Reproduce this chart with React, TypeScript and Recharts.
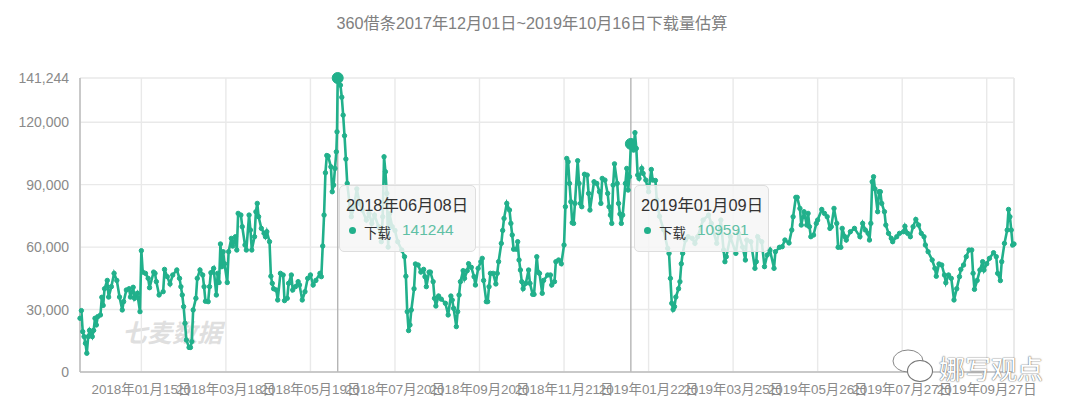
import React from "react";
import { LineChart, Line, XAxis, YAxis, CartesianGrid, ReferenceLine, ReferenceDot } from "recharts";

const titleText = "360借条2017年12月01日~2019年10月16日下载量估算";
const seriesName = "下载";
const LAST_DAY = 685;

// [days since 2017-12-01, downloads in thousands]
const samples: [number, number][] = [
[0,25.8],[1,29.5],[2,19.4],[3,17],[4,13.8],[5,9],[6,17],[7,20],[9,17],[10,20],[11,25.8],[12,22.6],[13,26.6],[15,27.4],[16,35.9],[17,32],[18,40],[20,44],[21,36],[23,41],[25,47.4],[27,44],[29,36],[31,29.8],[32,33.8],[34,39.4],[36,40],[37,36],[39,40.7],[40,35.4],[42,37.8],[44,29],
[45,58.3],[46,48],[48,47.4],[50,45],[51,40.5],[54,48],[55,47.4],[56,43.4],[58,37],[61,38.6],[62,49.3],[64,45.8],[66,42.3],[68,46.6],[71,49],[73,45],[74,41],[75,37],[76,31.4],[77,23.4],[78,15.4],[80,11.8],[81,11.8],[82,14.6],[83,29.8],[85,35.4],[86,45],[88,49],[90,46.6],[91,41],[92,34],[94,33.8],[95,41],[96,47.7],[98,49.8],[100,37],[101,47.4],[102,43],[103,61.5],[104,50.6],[105,57.8],[106,52],[108,43],[109,57.8],[111,64.2],[112,60.5],[114,65],[115,58.6],[116,76.2],[118,75.4],[119,69.8],[121,61],[122,58.6],[124,75.4],[125,68.2],[126,58.6],[128,65],[129,77],[130,81],[131,74.6],[133,69],[135,66.6],[136,65],[137,67.4],[139,62.6],
[140,46],[141,42.6],[142,40],[144,39.4],[145,34.6],[147,47.4],[149,46.6],[150,34.3],[152,35.4],[153,42.6],[155,46.6],[156,39.4],[158,41],[160,43.4],[161,41.8],[163,34.6],[165,38.6],[167,45],[169,46.6],[171,41.8],[173,44],[176,47.4],[177,45.8],[178,60.5],[179,75.4],[180,95.7],[181,104],[182,103.7],[184,98.6],[185,86.6],[186,89.8],[187,97.8],[188,105.8],[188.5,115.4],[189,141.244],
[191,137.8],[192,132],[193,123.4],[194,113.5],[195,102.3],[196,90.6],[198,79],[199,74.6],[201,79.4],[203,88],[205,81],[207,77.8],[210,73],[212,76.2],[214,71.4],[216,75.4],[219,69.8],[221,62.6],[222,74.6],[223,103.4],[224,96.2],[225,85.8],[226,60],[227,76],[229,69.8],[231,68],[233,62.6],[236,58.6],[238,55.4],[239,46],[240,29],[241,19.9],[242,22.6],[243,29.8],[245,40],[246,51.9],[248,51.4],[250,48],[252,49.3],[253,45.8],[254,41],[256,48],[257,48],[259,43.4],[260,35.4],[261,31.7],[263,36.5],[265,35],[268,33],[270,27.4],[272,36.5],[273,34.6],[274,30.6],[276,21.8],[277,29],[278,37],[279,43.4],[281,48.7],[282,45],[284,48.7],[285,52],[287,50.3],[289,45.8],[290,41.8],[292,49.8],[294,53],[295,54.6],[296,44],[298,33.8],[299,33.8],[300,41],[301,47.4],[303,47.4],[305,42.3],[306,47.4],[307,53],[309,61.8],[310,68],[311,73.8],[313,81],[315,77.8],[316,71.4],[317,65.8],[318,59],[320,59],[321,62.6],[322,53.8],[323,49],[324,43.4],[325,40],[327,42.6],[329,49],[330,42.6],[332,37.3],[333,37.3],[335,55.4],[336,48],[337,47.4],[339,37.8],[340,44],[343,46.6],[345,46.6],[346,41.8],[348,43.4],[349,53],[351,53.8],[353,52],[355,61],[356,79.4],[357,102.6],[358,101],[359,90.6],[360,81.8],[361,71.7],[362,71.4],[363,81],[365,101.5],[366,90.6],[367,81],[368,79.4],[370,95],[372,94.6],[373,85.8],[374,77.8],[377,91.4],[379,90.6],[381,86.6],[382,81],[383,93],[385,92.2],[387,85.8],[388,79.4],[389,75.4],[390,71.4],[391,89.8],[392,100],[394,90.6],[395,81],[396,75.9],[397,71.4],[398,75.4],[400,90.6],[401,97.8],[402,87.4],[403,93.8],[404,109.591],[406,106.6],[407,115],[408,107.4],[409,94.6],[410,93],[412,97.8],[413,95.4],[415,92.2],[417,86.6],[419,97.3],[420,92.2],[422,92],
[423,82.8],[425,74.8],[428,68.4],[431,59.4],[432,57],[433,45],[434,33],[435,30],[436,31.4],[437,36],[439,40],[440,43.4],[441,52],[442,57],[444,63.4],[446,65],[449,64.2],[451,61.8],[453,65],[457,73],[461,75.4],[463,71.4],[467,61.8],[470,73],[472,58.6],[473,53],[474,55.4],[477,65],[481,57],[483,66.6],[486,60],[488,53.8],[489,63.4],[492,62.6],[495,49.8],[496,53],[497,65],[500,62.6],[502,50.6],[504,56.2],[506,58.6],[509,49.8],[510,57.8],[513,59.9],[515,60.2],[517,63.4],[520,62],[522,68.2],[523,74.6],[525,83.9],[526,83.9],[528,78.6],[529,70.6],[531,77],[533,70.6],[534,76.2],[535,69.8],[536,65],[538,65.8],[540,71.4],[541,73],[544,78.1],[546,76.2],[548,74.6],[550,69],[551,69.8],[553,78.6],[555,71.4],[556,59.9],[558,59.9],[559,69],[561,65],[562,63.4],[565,67.4],[568,69],[572,65],[574,71.4],[576,68.2],[578,66.6],[579,63.4],[580,71.4],[581,91.4],[582,93.8],[583,88],[585,77],[586,86.6],[587,86.6],[588,81],[590,77],[591,70.6],[593,66.6],[595,64.2],[596,62.6],[599,65],[601,66.6],[604,67.4],[605,70],[607,66.6],[609,65],[611,69.8],[613,73.3],[615,70.6],[617,66.6],[619,65],[620,61],[622,57.8],[625,53.8],[627,49.8],[628,46],[630,51.9],[632,51.4],[634,46.6],[635,42.9],[637,46.6],[639,45],[641,34.6],[643,40],[645,45.8],[646,49.3],[648,51.4],[650,55.4],[652,58.6],[654,58.6],[655,47.4],[656,39.7],[658,44],[660,49],[662,53],[663,49],[665,52],[667,54.6],[670,57.3],[672,55.4],[673,47.4],[675,43.9],[676,53],[678,61.8],[680,68.2],[681,78.1],[682,74.6],[683,68.2],[684,61],[685,61.5],
];

const xTickDays = [45, 107, 169, 231, 293, 355, 417, 479, 541, 603, 665];
const xTickLabels = [
  "2018年01月15日", "2018年03月18日", "2018年05月19日", "2018年07月20日",
  "2018年09月20日", "2018年11月21日", "2019年01月22日", "2019年03月25日",
  "2019年05月26日", "2019年07月27日", "2019年09月27日",
];
const yTicks = [0, 30000, 60000, 90000, 120000, 141244];

const tipDays = [189, 404];
const tipDates = ["2018年06月08日", "2019年01月09日"];
const tipValues = [141244, 109591];

const GREEN = "#21b08b";
const FONT = '"Liberation Sans", "Noto Sans CJK SC", sans-serif';

const data = samples.map(([day, k]) => ({ day, value: Math.round(k * 1000) }));

const tipBoxes = [
  { left: 339, top: 185, width: 137, height: 67 },
  { left: 634, top: 185, width: 135, height: 67 },
];

function TipBox({ i }: { i: number }) {
  const b = tipBoxes[i];
  return (
    <div style={{ position: "absolute", ...b, boxSizing: "border-box", background: "rgba(245,245,245,0.84)", border: "1px solid #dedede", borderRadius: 5, fontFamily: FONT, zIndex: 3 }}>
      <div style={{ position: "absolute", left: 6, top: 6, fontSize: 16.4, color: "#333", whiteSpace: "nowrap" }}>{tipDates[i]}</div>
      <div style={{ position: "absolute", left: 9, top: 41, width: 7, height: 7, borderRadius: 4, background: GREEN }} />
      <div style={{ position: "absolute", left: 24, top: 36, fontSize: 13.5, color: "#333", whiteSpace: "nowrap" }}>{seriesName}</div>
      <div style={{ position: "absolute", left: 62, top: 35, fontSize: 15.5, color: "#5fc0a5", whiteSpace: "nowrap" }}>{tipValues[i]}</div>
    </div>
  );
}

export default function App() {
  return (
    <div style={{ position: "absolute", left: 0, top: 0, width: 1080, height: 414, background: "#fff", overflow: "hidden", fontFamily: FONT }}>
      <div style={{ position: "absolute", left: 0, width: 1064, top: 10, textAlign: "center", fontSize: 16.2, color: "#808080" }}>{titleText}</div>
      <div style={{ position: "absolute", left: 122, top: 313, fontSize: 25, fontWeight: 700, fontStyle: "italic", color: "#dfdfdf", whiteSpace: "nowrap" }}>七麦数据</div>
      <LineChart width={1080} height={414} data={data} margin={{ top: 78, right: 66, bottom: 12, left: 0 }} style={{ position: "absolute", left: 0, top: 0 }}>
        <CartesianGrid stroke="#e9e9e9" strokeWidth={1.4} />
        <XAxis
          dataKey="day"
          type="number"
          domain={[0, LAST_DAY]}
          ticks={xTickDays}
          interval={0}
          height={30}
          tickLine={false}
          axisLine={{ stroke: "#bdbdbd", strokeWidth: 1.5 }}
          tick={{ fill: "#8a8a8a", fontSize: 13.4, fontFamily: FONT }}
          tickFormatter={(d: number) => xTickLabels[xTickDays.indexOf(d)]}
          tickMargin={6}
        />
        <YAxis
          type="number"
          domain={[0, 141244]}
          ticks={yTicks}
          interval={0}
          width={80}
          tickLine={false}
          axisLine={{ stroke: "#bdbdbd", strokeWidth: 1.5 }}
          tick={{ fill: "#8a8a8a", fontSize: 14, fontFamily: FONT }}
          tickFormatter={(v: number) => v.toLocaleString("en-US")}
          tickMargin={5}
        />
        <ReferenceLine x={LAST_DAY} stroke="#e9e9e9" strokeWidth={1.4} />
        {tipDays.map((d) => (
          <ReferenceLine key={d} x={d} stroke="#b5b5b5" strokeWidth={1.4} />
        ))}
        <Line
          dataKey="value"
          stroke={GREEN}
          strokeWidth={2.6}
          dot={{ r: 2.2, fill: GREEN, stroke: GREEN, strokeWidth: 1 }}
          isAnimationActive={false}
          name={seriesName}
        />
        {tipDays.map((d, i) => (
          <ReferenceDot key={d} x={d} y={tipValues[i]} r={5.5} fill={GREEN} stroke={GREEN} ifOverflow="visible" />
        ))}
      </LineChart>
      <TipBox i={0} />
      <TipBox i={1} />
      <svg width={44} height={38} style={{ position: "absolute", left: 891, top: 348, zIndex: 4 }}>
        <ellipse cx={17} cy={13} rx={15} ry={11} fill="#fff" stroke="#888" strokeWidth={1} />
        <ellipse cx={29} cy={23} rx={12.5} ry={10.5} fill="#fff" stroke="#777" strokeWidth={1.1} />
      </svg>
      <div style={{ position: "absolute", left: 939, top: 349, fontSize: 26, color: "#fff", textShadow: "0 0 1.5px #666, 0 0 1px #666", whiteSpace: "nowrap", zIndex: 4 }}>娜写观点</div>
    </div>
  );
}
